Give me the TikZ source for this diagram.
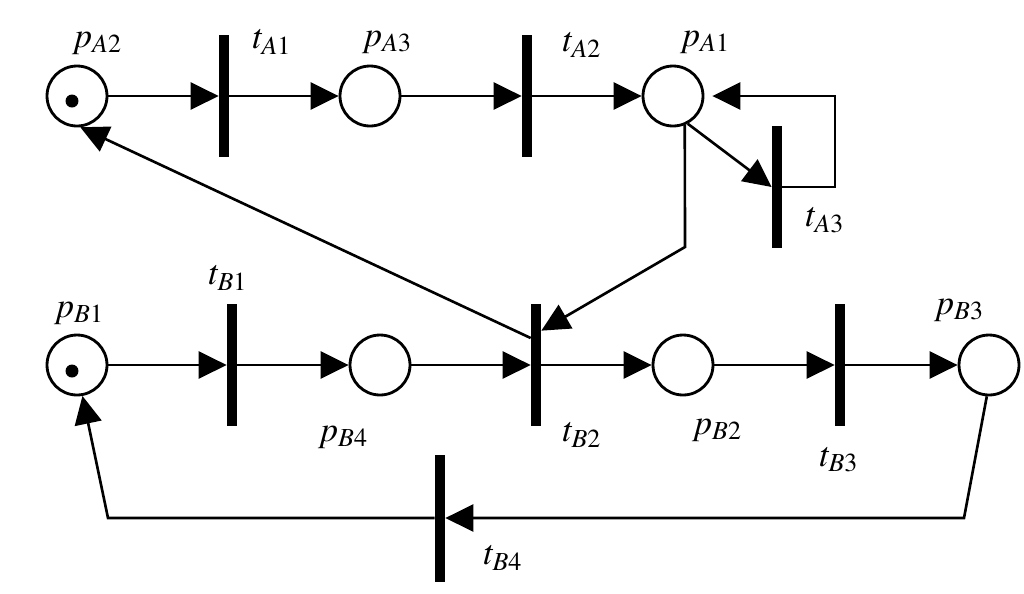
\documentclass[tikz,border=0pt]{standalone}
\usepackage{mathptmx}
\usetikzlibrary{arrows.meta, calc}

\begin{document}
\begin{tikzpicture}[
    x=0.02cm, y=-0.02cm,
    place/.style={draw, circle, line width=1.6pt, minimum size=1.2cm, inner sep=0},
    trans/.style={fill, rectangle, minimum width=0.2cm, minimum height=2.44cm, inner sep=0},
    token/.style={fill, circle, minimum size=0.26cm, inner sep=0},
    lbl/.style={font=\fontsize{20}{22}\selectfont, inner sep=0},
    flow/.style={line width=1.5pt, -{Triangle[length=0.56cm, width=0.54cm]}}
]
\useasboundingbox (0,0) rectangle (1024,593);

% net A
\node[place] (pA2) at (77,96) {};
\node[trans] (tA1) at (224,96) {};
\node[place] (pA3) at (370,96) {};
\node[trans] (tA2) at (527,96) {};
\node[place] (pA1) at (673,96) {};
\node[trans] (tA3) at (777,187) {};

% net B
\node[place] (pB1) at (77,365) {};
\node[trans] (tB1) at (232,365) {};
\node[place] (pB4) at (380,365) {};
\node[trans] (tB2) at (536,365) {};
\node[place] (pB2) at (683,365) {};
\node[trans] (tB3) at (840,365) {};
\node[place] (pB3) at (989,365) {};
\node[trans, minimum height=2.54cm] (tB4) at (440,518) {};

% tokens
\node[token] (kA) at (72,101) {};
\node[token] (kB) at (72,371) {};

% labels
\node[lbl] (lpA2) at (97,43) {$p_{A2}$};
\node[lbl] (ltA1) at (272,42) {$t_{A1}$};
\node[lbl] (lpA3) at (387,42) {$p_{A3}$};
\node[lbl] (ltA2) at (582,45) {$t_{A2}$};
\node[lbl] (lpA1) at (705,42) {$p_{A1}$};
\node[lbl] (ltA3) at (825,220) {$t_{A3}$};
\node[lbl] (lpB1) at (79,313) {$p_{B1}$};
\node[lbl] (ltB1) at (228,278) {$t_{B1}$};
\node[lbl] (lpB4) at (343,437) {$p_{B4}$};
\node[lbl] (ltB2) at (582,435) {$t_{B2}$};
\node[lbl] (lpB2) at (717,430) {$p_{B2}$};
\node[lbl] (ltB3) at (839,460) {$t_{B3}$};
\node[lbl] (lpB3) at (959,310) {$p_{B3}$};
\node[lbl] (ltB4) at (503,558) {$t_{B4}$};

% bend points
\coordinate (rA) at (835,187);
\coordinate (bA) at (685,247);
\coordinate (bB3) at (964,518);
\coordinate (bB1) at (108,518);

\draw[flow] (pA2) -- (tA1);
\draw[flow] (tA1) -- (pA3);
\draw[flow] (pA3) -- (tA2);
\draw[flow] (tA2) -- (pA1);
\draw[flow] (pA1.-62) -- (tA3.west);
\draw[flow, shorten >=0.16cm] (tA3.east) -- (rA) |- (pA1.east);
\draw[flow] (pA1.-68) -- (bA) -- ($(tB2.north east)!0.22!(tB2.south east)$);
\draw[flow] ($(tB2.north west)!0.28!(tB2.south west)$) -- (pA2.-84);

\draw[flow] (pB1) -- (tB1);
\draw[flow] (tB1) -- (pB4);
\draw[flow] (pB4) -- (tB2);
\draw[flow] (tB2) -- (pB2);
\draw[flow] (pB2) -- (tB3);
\draw[flow] (tB3) -- (pB3);
\draw[flow] (pB3.-94) -- (bB3) -- (tB4);
\draw[flow] (tB4) -- (bB1) -- (pB1.-80);
\end{tikzpicture}
\end{document}
